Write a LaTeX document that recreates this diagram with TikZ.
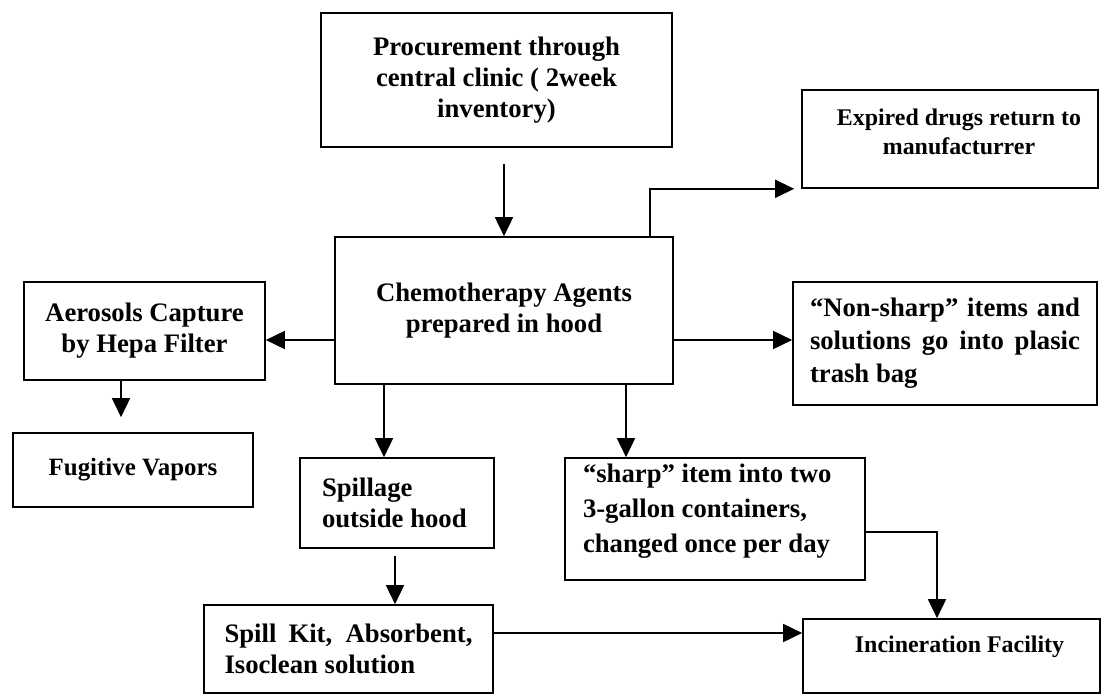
\documentclass[tikz,border=0pt]{standalone}
\usepackage{fontspec}
\setmainfont{Liberation Serif}
\usetikzlibrary{arrows.meta}

\begin{document}
\begin{tikzpicture}[x=1bp,y=-1bp,
  box/.style={draw=black,line width=1.6bp,inner sep=0pt,
    font=\bfseries\fontsize{26.8}{31}\selectfont},
  smalltext/.style={font=\bfseries\fontsize{24}{29}\selectfont},
  flow/.style={draw=black,line width=1.6bp,-{Triangle[length=19bp,width=18bp]}},
]
\useasboundingbox (0,0) rectangle (1108,697);

% boxes
\node[box,minimum width=351bp,minimum height=134bp,align=center] (proc) at (496.5,80)
  {Procurement through\\central clinic ( 2week\\inventory)};
\node[box,minimum width=338bp,minimum height=147bp,align=center] (chemo) at (504,310.5)
  {Chemotherapy Agents\\prepared in hood};
\node[box,minimum width=296bp,minimum height=98bp,
  label={[smalltext,align=center,xshift=9bp,yshift=7bp]center:Expired drugs return to\\manufacturrer}] (exp) at (950,139) {};
\node[box,minimum width=241bp,minimum height=98bp,align=center] (aero) at (144.5,331)
  {Aerosols Capture\\by Hepa Filter};
\node[box,minimum width=240bp,minimum height=74bp,
  font=\bfseries\fontsize{25}{30}\selectfont] (fug) at (133,470)
  {Fugitive Vapors};
\node[box,minimum width=304bp,minimum height=123bp,text width=270bp,align=justify,
  font=\bfseries\fontsize{26.8}{33}\selectfont] (nons) at (945,343.5)
  {“Non-sharp” items and\linebreak solutions go into plasic\linebreak trash bag};
\node[box,minimum width=194bp,minimum height=90bp,text width=150bp,align=flush left] (spill) at (397,503)
  {Spillage\\outside hood};
\node[box,minimum width=300bp,minimum height=122bp,
  label={[font=\bfseries\fontsize{26.8}{35}\selectfont,text width=264bp,align=flush left,yshift=8bp]center:“sharp” item into two\\3-gallon containers,\\changed once per day}] (sharp) at (715,519) {};
\node[box,minimum width=289bp,minimum height=88bp,text width=248bp,align=justify] (kit) at (348.5,649)
  {Spill Kit, Absorbent,\linebreak Isoclean solution};
\node[box,minimum width=297bp,minimum height=74bp,
  label={[smalltext,xshift=8bp,yshift=9bp]center:Incineration Facility}] (inc) at (951.5,656) {};

% branch points of the connectors
\coordinate (p1) at ([yshift=-16bp]proc.south);
\coordinate (e1) at ([xshift=146bp]chemo.north);
\coordinate (lvl) at ([yshift=-29.5bp]chemo.west);
\coordinate (c1) at ([xshift=-120bp]chemo.south);
\coordinate (c2) at ([xshift=122bp]chemo.south);
\coordinate (a1) at ([xshift=-23.5bp]aero.south);
\coordinate (f1) at ([yshift=15bp]fug.north);
\coordinate (s1) at ([xshift=-2bp,yshift=-7bp]spill.south);
\coordinate (k1) at ([yshift=16bp]kit.east);
\coordinate (s2) at ([yshift=-13bp]sharp.east);
\coordinate (i1) at ([xshift=-14.5bp]inc.north);
\coordinate (x1) at ([xshift=-7bp]exp.south west);

% connectors
\draw[flow] (chemo.north |- p1) -- (chemo.north);
\draw[flow] (e1) |- (x1);
\draw[flow] (lvl) -- (lvl -| aero.east);
\draw[flow] (lvl -| chemo.east) -- (lvl -| nons.west);
\draw[flow] (c1) -- (c1 |- spill.north);
\draw[flow] (c2) -- (c2 |- sharp.north);
\draw[flow] (a1) -- (a1 |- f1);
\draw[flow] (s1) -- (s1 |- kit.north);
\draw[flow] (k1) -- (k1 -| inc.west);
\draw[flow] (s2) -| (i1);
\end{tikzpicture}
\end{document}
